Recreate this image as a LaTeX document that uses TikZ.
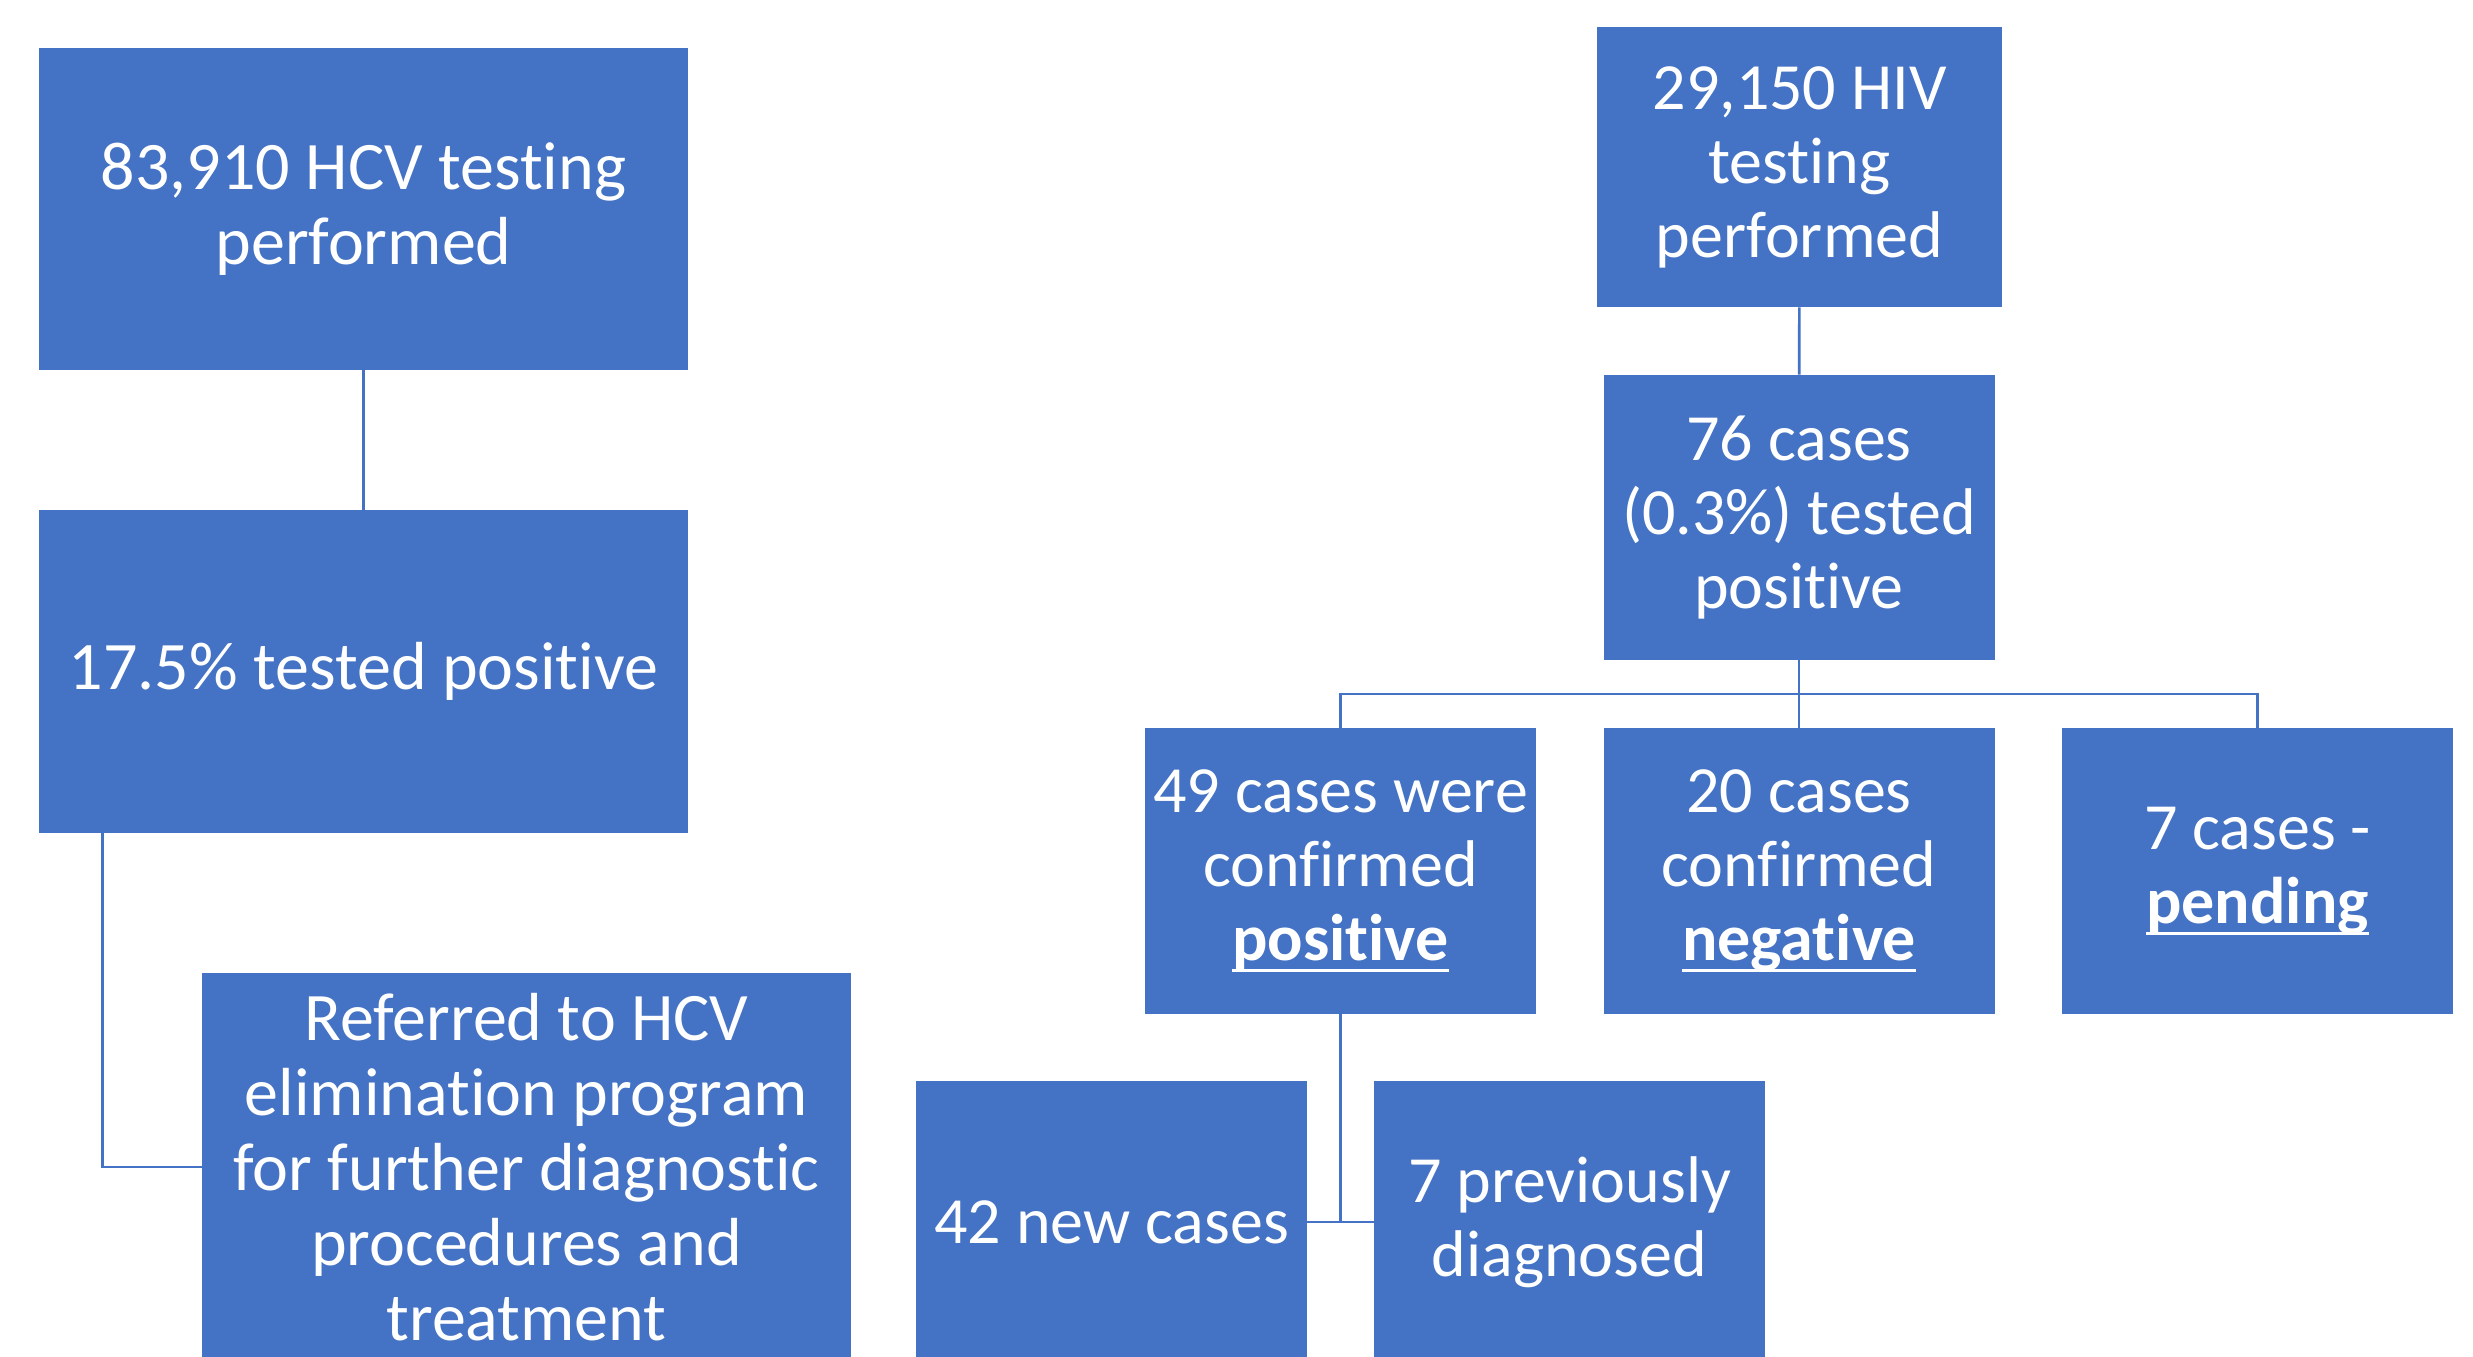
\documentclass[tikz,border=0pt]{standalone}
\usepackage{fontspec}
\setmainfont[Ligatures=NoCommon]{Carlito}
\usetikzlibrary{calc}
\definecolor{officeblue}{HTML}{4472C4}
\newcommand{\bul}[1]{\leavevmode\setbox0=\hbox{\textbf{#1}}\rlap{\rule[-0.175em]{\wd0}{0.045em}}\box0}

\begin{document}
\begin{tikzpicture}[x=0.5pt,y=-0.5pt,
    box/.style={fill=officeblue,text=white,inner sep=0pt,align=center},
    hcv/.style={box,minimum width=324.5pt,font=\fontsize{34}{37.5}\selectfont},
    hiv/.style={box,minimum width=195.5pt,font=\fontsize{33}{37}\selectfont},
    link/.style={draw=officeblue,line width=1.3pt}]
      \useasboundingbox (0,0) rectangle (2473,1356);
      % HCV branch
      \node[hcv,minimum height=161pt] (hcvtest) at (363.5,209) {83,910 HCV testing\\performed};
      \node[hcv,minimum height=161.5pt] (hcvpos) at (363.5,671.5) {17.5\% tested positive};
      \node[hcv,minimum height=194pt] (hcvref) at (526.5,1167) {Referred to HCV\\elimination program\\for further diagnostic\\procedures and\\treatment};
      \draw[link] (hcvtest) -- (hcvpos);
      \draw[link] ($(hcvpos.south west)+(64,0)$) |- (hcvref.west);
      % HIV branch
      \node[hiv,minimum width=202.5pt,minimum height=140pt] (hivtest) at (1799.5,167) {29,150 HIV\\testing\\performed};
      \node[hiv,minimum height=142.5pt] (hivpos) at (1799,517.5) {76 cases\\(0.3\%) tested\\positive};
      \node[hiv,minimum height=143pt] (confpos) at (1340.5,871) {49 cases were\\confirmed\\\bul{positive}};
      \node[hiv,minimum height=143pt] (confneg) at (1799,871) {20 cases\\confirmed\\\bul{negative}};
      \node[hiv,minimum height=143pt] (pending) at (2257.5,871) {7 cases -\\\bul{pending}};
      \node[hiv,minimum height=141pt] (newcases) at (1111.5,1222) {42 new cases};
      \node[hiv,minimum height=141pt] (prevdiag) at (1569.5,1222) {7 previously\\diagnosed};
      \draw[link] (hivtest) -- (hivpos);
      \coordinate (bus) at ($(hivpos.south)!.5!(confneg.north)$);
      \draw[link] (hivpos) -- (confneg);
      \draw[link] (confpos.north) |- (bus) -| (pending.north);
      \draw[link] (confpos.south) |- (newcases.east);
      \draw[link] (confpos.south) |- (prevdiag.west);
\end{tikzpicture}
\end{document}
